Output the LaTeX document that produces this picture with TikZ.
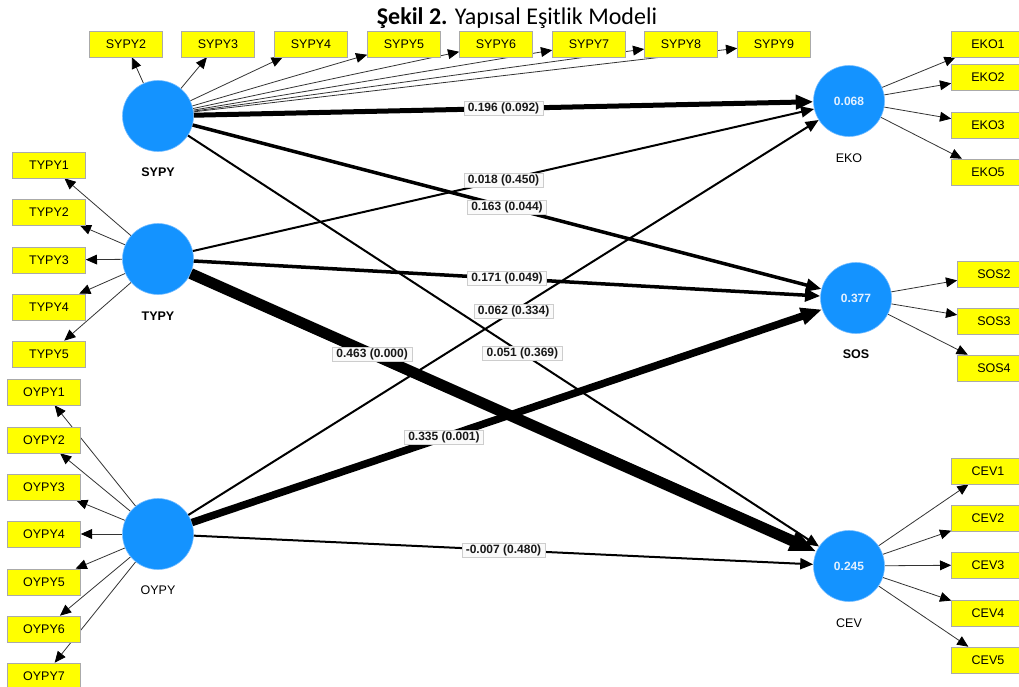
\documentclass[tikz,border=0pt]{standalone}
\usepackage{fontspec}
\setmainfont{Liberation Sans}
\newfontfamily\titlefont{Carlito}
\usetikzlibrary{arrows.meta,backgrounds}
\definecolor{latblue}{RGB}{20,147,255}
\definecolor{latrim}{RGB}{120,190,255}
\definecolor{valtext}{RGB}{228,241,255}
\definecolor{indyellow}{RGB}{255,255,0}
\definecolor{indedge}{RGB}{170,170,170}
\definecolor{coefedge}{RGB}{205,205,205}
\definecolor{coeffill}{RGB}{250,250,250}
\tikzset{
  latent/.style={circle,fill=latblue,draw=latrim,line width=0.6pt,
    minimum size=71pt,inner sep=0pt,text=valtext,
    font=\fontsize{12}{14}\selectfont\bfseries},
  latname/.style={font=\fontsize{12.5}{14}\selectfont,text=black},
  indbox/.style={rectangle,fill=indyellow,draw=indedge,line width=0.6pt,
    minimum width=73pt,minimum height=26pt,inner sep=0pt,
    font=\fontsize{12.5}{14}\selectfont},
  load/.style={black!80,line width=0.8pt,
    -{Triangle[length=10pt 1.5,width=9pt 1,color=black]}},
  effect/.style={black,-{Triangle[length=10pt 1.5,width=9pt 1]}},
  coef/.style={rectangle,fill=coeffill,draw=coefedge,line width=0.5pt,
    inner xsep=4pt,inner ysep=1.5pt,text=black!90,
    font=\fontsize{12}{14}\selectfont\bfseries}
}
\begin{document}
\begin{tikzpicture}[x=1pt,y=-1pt]
\useasboundingbox (0,0) rectangle (1019,687);
\node[anchor=base,font=\titlefont\fontsize{24}{28}\selectfont] (title) at (517,25)
  {\textbf{Şekil 2.} Yapısal Eşitlik Modeli};

% latent variables
\node[latent] (SYPY) at (158,116) {};
\node[latent] (TYPY) at (158,259) {};
\node[latent] (OYPY) at (158,534) {};
\node[latent] (EKO) at (849,101) {0.068};
\node[latent] (SOS) at (856,298) {0.377};
\node[latent] (CEV) at (849,566) {0.245};
\node[latname,font=\fontsize{12.5}{14}\selectfont\bfseries] (SYPYname) at (158,172) {SYPY};
\node[latname,font=\fontsize{12.5}{14}\selectfont\bfseries] (TYPYname) at (158,316) {TYPY};
\node[latname] (OYPYname) at (158,590) {OYPY};
\node[latname] (EKOname) at (849,158) {EKO};
\node[latname,font=\fontsize{12.5}{14}\selectfont\bfseries] (SOSname) at (856,354) {SOS};
\node[latname] (CEVname) at (849,623) {CEV};

% indicators
\foreach \i/\x in {2/126,3/218,4/311,5/404,6/496,7/589,8/681,9/774}
  \node[indbox] (SYPY\i) at (\x,44) {SYPY\i};
\foreach \i/\y in {1/165,2/212,3/260,4/307,5/354}
  \node[indbox] (TYPY\i) at (49,\y) {TYPY\i};
\foreach \i/\y in {1/392,2/440,3/487,4/534,5/582,6/629,7/676}
  \node[indbox] (OYPY\i) at (44,\y) {OYPY\i};
\foreach \i/\y in {1/44,2/77,3/125,5/172}
  \node[indbox] (EKO\i) at (988,\y) {EKO\i};
\foreach \i/\y in {2/274,3/321,4/368}
  \node[indbox] (SOS\i) at (994,\y) {SOS\i};
\foreach \i/\y in {1/471,2/518,3/565,4/613,5/660}
  \node[indbox] (CEV\i) at (988,\y) {CEV\i};

\begin{scope}[on background layer]
\foreach \i in {2,...,9} \draw[load] (SYPY) -- (SYPY\i);
\foreach \i in {1,...,5} \draw[load] (TYPY) -- (TYPY\i);
\foreach \i in {1,...,7} \draw[load] (OYPY) -- (OYPY\i);
\foreach \i in {1,2,3,5} \draw[load] (EKO) -- (EKO\i);
\foreach \i in {2,3,4} \draw[load] (SOS) -- (SOS\i);
\foreach \i in {1,...,5} \draw[load] (CEV) -- (CEV\i);
\end{scope}

% path coefficients
\draw[effect,line width=5pt] (SYPY) -- node[coef,pos=0.5]{0.196 (0.092)} (EKO);
\draw[effect,line width=3.5pt] (SYPY) -- node[coef,pos=0.5]{0.163 (0.044)} (SOS);
\draw[effect,line width=2pt] (SYPY) -- node[coef,pos=0.53]{0.051 (0.369)} (CEV);
\draw[effect,line width=2pt] (TYPY) -- node[coef,pos=0.5]{0.018 (0.450)} (EKO);
\draw[effect,line width=3.5pt] (TYPY) -- node[coef,pos=0.5]{0.171 (0.049)} (SOS);
\draw[effect,line width=11pt] (TYPY) -- node[coef,pos=0.29]{0.463 (0.000)} (CEV);
\draw[effect,line width=2pt] (OYPY) -- node[coef,pos=0.516]{0.062 (0.334)} (EKO);
\draw[effect,line width=7.5pt] (OYPY) -- node[coef,pos=0.4]{0.335 (0.001)} (SOS);
\draw[effect,line width=2pt] (OYPY) -- node[coef,pos=0.5]{-0.007 (0.480)} (CEV);
\end{tikzpicture}
\end{document}
